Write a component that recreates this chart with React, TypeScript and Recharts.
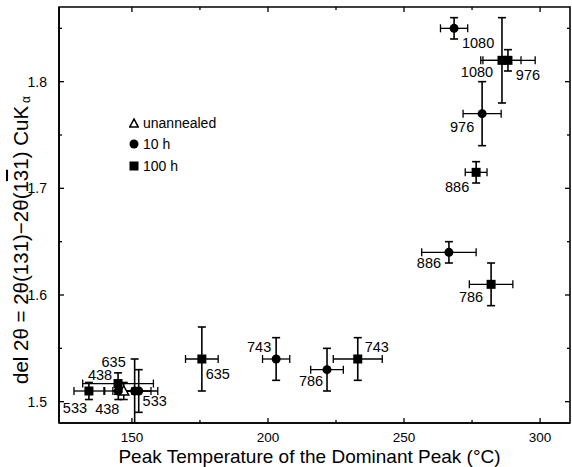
import { ScatterChart, Scatter, XAxis, YAxis, ErrorBar, ReferenceArea, Legend } from "recharts";

// 10 h anneal
const H10_LABELS = ["1080", "976", "886", "743", "786", "438", "635", "533"];
const H10_TEMP = [268.4, 278.7, 266.5, 203, 221.7, 145, 151, 152.5];
const H10_DEL = [1.85, 1.77, 1.64, 1.54, 1.53, 1.51, 1.51, 1.51];
const H10_TEMP_ERR = [5, 7, 10, 5, 6, 5, 6, 7];
const H10_DEL_ERR = [0.01, 0.03, 0.01, 0.02, 0.02, 0.008, 0.03, 0.02];

// 100 h anneal
const H100_LABELS = ["1080", "976", "886", "786", "743", "635", "533", "438"];
const H100_TEMP = [286, 288.2, 276.5, 282, 233, 175.7, 134.2, 144.9];
const H100_DEL = [1.82, 1.82, 1.715, 1.61, 1.54, 1.54, 1.51, 1.517];
const H100_TEMP_ERR = [7, 10, 4, 8, 9, 6, 5.5, 13];
const H100_DEL_ERR = [0.04, 0.01, 0.01, 0.02, 0.02, 0.03, 0.008, 0.01];

// unannealed
const UN_TEMP = [147];
const UN_DEL = [1.51];
const UN_TEMP_ERR = [4];
const UN_DEL_ERR = [0.008];

const SERIES_NAMES = ["unannealed", "10 h", "100 h"];
const X_TICKS = [150, 175, 200, 225, 250, 275, 300];
const Y_TICKS = [1.5, 1.55, 1.6, 1.65, 1.7, 1.75, 1.8, 1.85];
const X_DOMAIN = [123.2, 311];
const Y_DOMAIN = [1.48, 1.87];

// pixel offsets of the anneal-temperature labels from their marker
const H10_LABEL_OFFSET = [[24, 15], [-20, 13], [-20, 11], [-17, -12], [-16, 11], [-11, 18], [-21, -29], [16, 10]];
const H100_LABEL_OFFSET = [[-25, 12], [20, 15], [-19, 15], [-20, 13], [19, -12], [16, 15], [-14, 17], [-18, -9]];

const PLOT_W = 511;
const PLOT_H = 416;
const FONT = "'Liberation Sans', Arial, sans-serif";

const rows = (t: number[], d: number[], ex: number[], ey: number[], labels?: string[]) =>
  t.map((x, i) => ({ x, y: d[i], ex: ex[i], ey: ey[i], label: labels ? labels[i] : "" }));

const h10 = rows(H10_TEMP, H10_DEL, H10_TEMP_ERR, H10_DEL_ERR, H10_LABELS);
const h100 = rows(H100_TEMP, H100_DEL, H100_TEMP_ERR, H100_DEL_ERR, H100_LABELS);
const unannealed = rows(UN_TEMP, UN_DEL, UN_TEMP_ERR, UN_DEL_ERR);

const isMajor = (v: number, step: number) => Math.abs(v / step - Math.round(v / step)) < 1e-6;

function XTick({ x, y, payload }: any) {
  const major = isMajor(payload.value, 50);
  const len = major ? 5 : 3;
  return (
    <g>
      <line x1={x} y1={y} x2={x} y2={y - len} stroke="#000" strokeWidth={1.3} />
      <line x1={x} y1={y - PLOT_H} x2={x} y2={y - PLOT_H + len} stroke="#000" strokeWidth={1.3} />
      {major && (
        <text x={x} y={y + 14} textAnchor="middle" dominantBaseline="central" fontSize={13.5} fontFamily={FONT} fill="#000">
          {payload.value}
        </text>
      )}
    </g>
  );
}

function YTick({ x, y, payload }: any) {
  const major = isMajor(payload.value, 0.1);
  const len = major ? 5 : 3;
  return (
    <g>
      <line x1={x} y1={y} x2={x + len} y2={y} stroke="#000" strokeWidth={1.3} />
      <line x1={x + PLOT_W} y1={y} x2={x + PLOT_W - len} y2={y} stroke="#000" strokeWidth={1.3} />
      {major && (
        <text x={x - 12} y={y} textAnchor="end" dominantBaseline="central" fontSize={14} fontFamily={FONT} fill="#000">
          {payload.value.toFixed(1)}
        </text>
      )}
    </g>
  );
}

const pointLabel = (cx: number, cy: number, text: string, off: number[]) => (
  <text x={cx + off[0]} y={cy + off[1]} textAnchor="middle" dominantBaseline="central" fontSize={14.5} fontFamily={FONT} fill="#000">
    {text}
  </text>
);

const CircleShape = (props: any) => {
  const { cx, cy, payload, index } = props;
  return (
    <g>
      <circle cx={cx} cy={cy} r={4.5} fill="#000" />
      {pointLabel(cx, cy, payload.label, H10_LABEL_OFFSET[index])}
    </g>
  );
};

const SquareShape = (props: any) => {
  const { cx, cy, payload, index } = props;
  return (
    <g>
      <rect x={cx - 4.5} y={cy - 4.5} width={9} height={9} fill="#000" />
      {pointLabel(cx, cy, payload.label, H100_LABEL_OFFSET[index])}
    </g>
  );
};

const TriangleShape = ({ cx, cy }: any) => (
  <polygon points={`${cx},${cy - 5} ${cx - 5},${cy + 4} ${cx + 5},${cy + 4}`} fill="#fff" stroke="#000" strokeWidth={1.5} />
);

const legendIcon = (name: string) => {
  if (name === "unannealed")
    return <polygon points="5,1 0.8,9 9.2,9" fill="#fff" stroke="#000" strokeWidth={1.6} />;
  if (name === "10 h") return <circle cx={5} cy={5} r={4.5} fill="#000" />;
  return <rect x={0.5} y={0.5} width={9} height={9} fill="#000" />;
};

const renderLegend = () => (
  <div style={{ fontFamily: FONT, fontSize: 14, color: "#000" }}>
    {SERIES_NAMES.map((name) => (
      <div key={name} style={{ display: "flex", alignItems: "center", height: 21.5 }}>
        <svg width={10} height={10} style={{ marginRight: 4 }}>
          {legendIcon(name)}
        </svg>
        <span>{name}</span>
      </div>
    ))}
  </div>
);

const YTitle = () => (
  <text
    x={20}
    y={240}
    transform="rotate(-90 20 240)"
    textAnchor="middle"
    dominantBaseline="central"
    fontSize={20.5}
    fontFamily={FONT}
    fill="#000"
  >
    del 2θ = 2θ(131)−2θ(1<tspan style={{ textDecoration: "overline" }}>3</tspan>1) CuK
    <tspan fontSize={12} dx={3} dy={6}>α</tspan>
  </text>
);

const XTitle = ({ viewBox }: any) => (
  <text
    x={viewBox.x + viewBox.width / 2 - 5}
    y={456}
    textAnchor="middle"
    dominantBaseline="central"
    fontSize={19}
    fontFamily={FONT}
    fill="#000"
  >
    Peak Temperature of the Dominant Peak (°C)
  </text>
);

export default function App() {
  return (
    <div style={{ position: "absolute", left: 0, top: 0, background: "#fff" }}>
      <ScatterChart width={572} height={467} margin={{ top: 7, right: 2, bottom: 0, left: 0 }}>
        <XAxis
          type="number"
          dataKey="x"
          domain={X_DOMAIN}
          ticks={X_TICKS}
          allowDataOverflow
          tick={<XTick />}
          tickSize={0}
          tickMargin={0}
          interval={0}
          height={44}
          axisLine={{ stroke: "#000", strokeWidth: 1.6 }}
          label={{ content: (p: any) => <XTitle viewBox={p.viewBox} /> }}
        />
        <YAxis
          type="number"
          dataKey="y"
          domain={Y_DOMAIN}
          ticks={Y_TICKS}
          allowDataOverflow
          tick={<YTick />}
          tickSize={0}
          tickMargin={0}
          interval={0}
          width={59}
          axisLine={{ stroke: "#000", strokeWidth: 1.6 }}
          label={{ content: () => <YTitle /> }}
        />
        <ReferenceArea
          x1={X_DOMAIN[0]}
          x2={X_DOMAIN[1]}
          y1={Y_DOMAIN[0]}
          y2={Y_DOMAIN[1]}
          fill="none"
          fillOpacity={0}
          stroke="#000"
          strokeWidth={1.6}
        />
        <Legend
          layout="vertical"
          align="center"
          verticalAlign="middle"
          content={renderLegend}
          wrapperStyle={{ left: 129, top: 112, width: 120 }}
        />
        <Scatter name="unannealed" data={unannealed} shape={<TriangleShape />} isAnimationActive={false}>
          <ErrorBar dataKey="ex" direction="x" width={4} stroke="#000" strokeWidth={1.3} />
          <ErrorBar dataKey="ey" direction="y" width={4} stroke="#000" strokeWidth={1.5} />
        </Scatter>
        <Scatter name="10 h" data={h10} shape={CircleShape} isAnimationActive={false}>
          <ErrorBar dataKey="ex" direction="x" width={4} stroke="#000" strokeWidth={1.3} />
          <ErrorBar dataKey="ey" direction="y" width={4} stroke="#000" strokeWidth={1.6} />
        </Scatter>
        <Scatter name="100 h" data={h100} shape={SquareShape} isAnimationActive={false}>
          <ErrorBar dataKey="ex" direction="x" width={4} stroke="#000" strokeWidth={1.3} />
          <ErrorBar dataKey="ey" direction="y" width={4} stroke="#000" strokeWidth={1.6} />
        </Scatter>
      </ScatterChart>
    </div>
  );
}
